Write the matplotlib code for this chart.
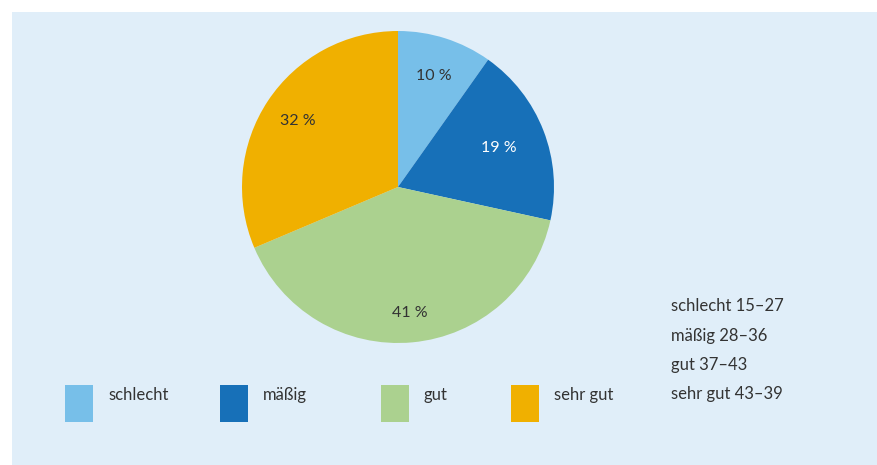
import numpy as np
import matplotlib.pyplot as plt
from matplotlib.patches import Rectangle

categories = ['schlecht', 'mäßig', 'gut', 'sehr gut']
shares = [10, 19, 41, 32]
pct_labels = ['10 %', '19 %', '41 %', '32 %']
ranges = ['15–27', '28–36', '37–43', '43–39']

colors = ['#77bfe9', '#1770b8', '#abd18f', '#f0b000']
label_colors = ['#333333', 'white', '#333333', '#333333']
label_radius = [0.75, 0.69, 0.81, 0.77]

W, H = 877, 465
plt.rcParams['font.family'] = ['Lato', 'DejaVu Sans']

fig = plt.figure(figsize=(W / 100, H / 100), dpi=100)
fig.patch.set_facecolor('white')
# light blue panel
fig.add_artist(Rectangle((12 / W, 0), 1, 1 - 12 / H, transform=fig.transFigure,
                         facecolor='#e0eef9', edgecolor='none', zorder=0))

# pie axes, centre (398, 187) px, radius 156 px
cx, cy, r = 398, 187, 156
ax = fig.add_axes([(cx - r) / W, (H - cy - r) / H, 2 * r / W, 2 * r / H])
ax.set_axis_off()
wedges, _ = ax.pie(shares, colors=colors, startangle=90, counterclock=False,
                   radius=1, wedgeprops=dict(linewidth=0))
ax.set_xlim(-1, 1)
ax.set_ylim(-1, 1)

for w, txt, col, rr in zip(wedges, pct_labels, label_colors, label_radius):
    ang = np.deg2rad((w.theta1 + w.theta2) / 2)
    ax.text(rr * np.cos(ang), rr * np.sin(ang), txt, ha='center', va='center',
            fontsize=11.5, color=col)

# legend boxes
box_x = [65, 220, 381, 511]
for x, cat, col in zip(box_x, categories, colors):
    fig.add_artist(Rectangle((x / W, (H - 422) / H), 28 / W, 37 / H,
                             transform=fig.transFigure, facecolor=col,
                             edgecolor='none'))
    fig.text((x + 43) / W, (H - 395) / H, cat, ha='left', va='center',
             fontsize=12, color='#333333')

# score ranges
line_y = [306, 336, 365, 394]
for y, cat, rg in zip(line_y, categories, ranges):
    fig.text(671 / W, (H - y) / H, f'{cat} {rg}', ha='left', va='center',
             fontsize=12, color='#333333')

plt.savefig('out.png', dpi=100)
